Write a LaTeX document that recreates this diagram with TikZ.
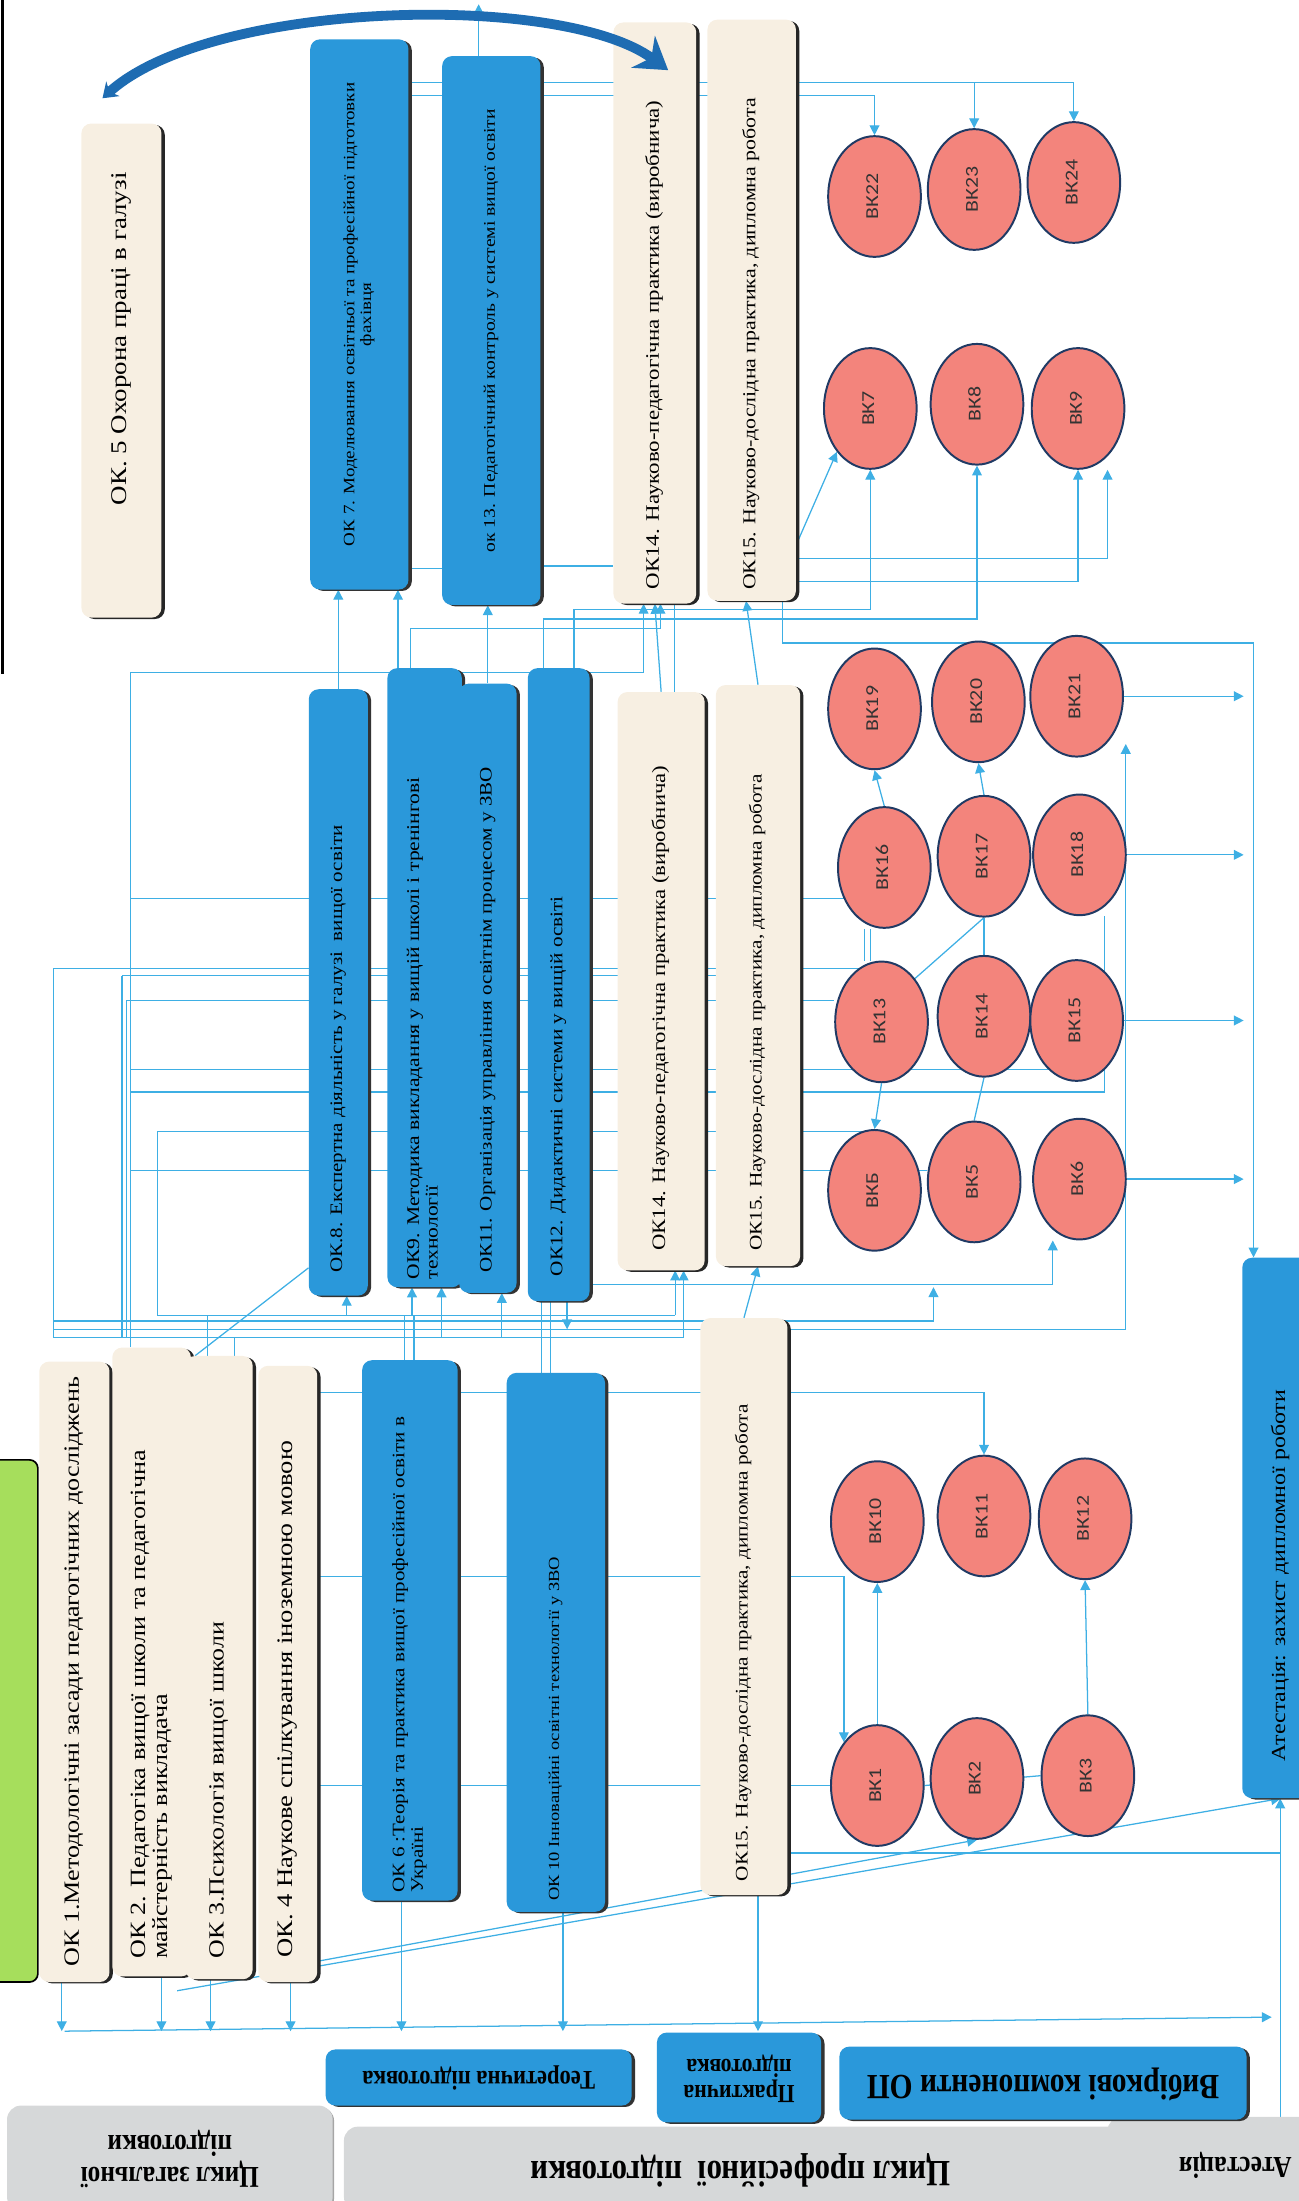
\documentclass[tikz,border=0pt]{standalone}
\usepackage{fontspec}
\usepackage{graphicx}
\setmainfont{Liberation Serif}
\newfontfamily\bkfont{Carlito}
\usetikzlibrary{positioning,arrows.meta,shapes.geometric,shadows}
\pgfdeclarelayer{background}
\pgfsetlayers{background,main}
\definecolor{okblue}{RGB}{42,152,218}
\definecolor{okbeige}{RGB}{247,239,226}
\definecolor{lineblue}{RGB}{62,175,228}
\definecolor{bkfill}{RGB}{243,132,124}
\definecolor{bkdraw}{RGB}{32,58,100}
\definecolor{cyclegrey}{RGB}{214,216,217}
\definecolor{greenbox}{RGB}{166,222,92}
\definecolor{bigblue}{RGB}{30,108,178}
\renewcommand{\arraystretch}{0.95}
\newcommand{\vt}[2][l]{\rotatebox{90}{\scalebox{1.2}[1]{\begin{tabular}{@{}#1@{}}#2\end{tabular}}}}
\newcommand{\vtb}[2]{\rotatebox{90}{\scalebox{1.2}[1]{\makebox[#1][l]{\begin{tabular}{@{}l@{}}#2\end{tabular}}}}}
\newcommand{\ut}[1]{\rotatebox{180}{\scalebox{1}[1.2]{\begin{tabular}{@{}c@{}}#1\end{tabular}}}}

\begin{document}
\begin{tikzpicture}[x=1pt,y=-1pt]
\tikzstyle{practice} = [fill=okbeige, rounded corners=7pt, inner sep=0pt, drop shadow={shadow xshift=2.4pt, shadow yshift=-1pt, fill=black!85, opacity=1}]
\tikzstyle{theory} = [fill=okblue, rounded corners=7pt, inner sep=0pt, drop shadow={shadow xshift=2.4pt, shadow yshift=-1pt, fill=black!80, opacity=1}]
\tikzstyle{elective} = [ellipse, draw=bkdraw, line width=1.4pt, fill=bkfill, minimum width=66pt, minimum height=86pt, inner sep=0pt, text=black!80, font=\bkfont\fontsize{13}{14}\selectfont]
\tikzstyle{cycle} = [fill=cyclegrey, rounded corners=10pt, inner sep=0pt, drop shadow={shadow xshift=1pt, shadow yshift=-1pt, fill=black!35, opacity=1}]
\tikzstyle{conn} = [draw=lineblue, line width=0.9pt]
\tikzstyle{arr} = [conn, -{Triangle[length=7pt,width=7pt]}]
\tikzstyle{bigarr} = [draw=bigblue, line width=7pt, {Stealth[length=10pt,width=14pt]}-{Stealth[length=22pt,width=28pt]}]

\useasboundingbox (0,0) rectangle (925,1568);

\node (green) [fill=greenbox, draw=black, line width=1.2pt, rounded corners=6pt, minimum width=37, minimum height=372] at (8.5,1226) {};

\node (OK5) [practice, minimum width=57, minimum height=352, font=\fontsize{16}{18}\selectfont] at (86.5,264) {\vtb{160pt}{ОК. 5 Охорона праці в галузі}};
\node (OK7) [theory, minimum width=70, minimum height=392, font=\fontsize{11.3}{12.5}\selectfont] at (256,224) {\vt[c]{ОК 7. Моделювання освітньої та професійної підготовки\\фахівця}};
\node (OK13) [theory, minimum width=70, minimum height=391, font=\fontsize{11.6}{13}\selectfont] at (350,235.5) {\vt{ок 13. Педагогічний контроль у системі вищої освіти}};
\node (OK14t) [practice, minimum width=59, minimum height=414, font=\fontsize{13.6}{15}\selectfont] at (466.5,223) {\vtb{328pt}{ОК14. Науково-педагогічна практика (виробнича)}};
\node (OK15t) [practice, minimum width=63, minimum height=414, font=\fontsize{13}{14}\selectfont] at (535.5,221) {\vtb{332pt}{ОК15. Науково-дослідна практика, дипломна робота}};

\node (OK8) [theory, minimum width=42, minimum height=432, font=\fontsize{12.5}{14}\selectfont] at (241,707) {\vtb{333pt}{ОК.8. Експертна діяльність у галузі\ \ вищої освіти}};
\node (OK9) [theory, minimum width=53, minimum height=441, font=\fontsize{12.8}{14}\selectfont] at (302.5,696.5) {\vtb{358pt}{ОК9. Методика викладання у вищій школі і тренінгові\\технології}};
\node (OK11) [theory, minimum width=41, minimum height=434, font=\fontsize{12.5}{14}\selectfont] at (347.5,704) {\vtb{338pt}{ОК11. Організація управління освітнім процесом у ЗВО}};
\node (OK12) [theory, minimum width=44, minimum height=451, font=\fontsize{12.6}{14}\selectfont] at (398,701.5) {\vtb{346pt}{ОК12. Дидактичні системи у вищій освіті}};
\node (OK14m) [practice, minimum width=62, minimum height=412, font=\fontsize{13.5}{15}\selectfont] at (471,699) {\vtb{320pt}{ОК14. Науково-педагогічна практика (виробнича)}};
\node (OK15m) [practice, minimum width=60, minimum height=414, font=\fontsize{12.6}{14}\selectfont] at (540,695) {\vtb{327pt}{ОК15. Науково-дослідна практика, дипломна робота}};

\node (OK1) [practice, minimum width=50, minimum height=442, font=\fontsize{15.5}{17}\selectfont] at (53,1191) {\vt{ОК 1.Методологічні засади педагогічних досліджень}};
\node (OK2) [practice, minimum width=56, minimum height=448, font=\fontsize{15.5}{16.5}\selectfont] at (108,1184) {\vtb{352pt}{ОК 2. Педагогіка вищої школи та педагогічна\\майстерність викладача}};
\node (OK3) [practice, minimum width=48, minimum height=444, font=\fontsize{15.4}{17}\selectfont] at (156,1188) {\vtb{345pt}{ОК 3.Психологія вищої школи}};
\node (OK4) [practice, minimum width=42, minimum height=439, font=\fontsize{15.8}{17}\selectfont] at (205,1192.5) {\vtb{337pt}{ОК. 4 Наукове спілкування іноземною мовою}};
\node (OK6) [theory, minimum width=68, minimum height=385, font=\fontsize{12.5}{14}\selectfont] at (292,1161.5) {\vtb{311pt}{ОК 6 :Теорія та практика вищої професійної освіти в\\Україні}};
\node (OK10) [theory, minimum width=70, minimum height=384, font=\fontsize{11}{12}\selectfont] at (396,1170) {\vtb{307pt}{ОК 10 Інноваційні освітні технології у ЗВО}};
\node (OK15L) [practice, minimum width=62, minimum height=411, font=\fontsize{12.6}{14}\selectfont] at (530,1144.5) {\vtb{326pt}{ОК15. Науково-дослідна практика, дипломна робота}};
\node (ATT) [theory, minimum width=55, minimum height=385, font=\fontsize{14.2}{15}\selectfont] at (912.5,1088.5) {\vtb{277pt}{Атестація: захист дипломної роботи}};

\foreach \n/\x/\y in {22/623/140, 23/694/135, 24/765/130, 7/620/291, 8/696/288, 9/768/291,
  19/623/505, 20/697/500, 21/767/496, 16/630/618, 17/701/610, 18/769/609,
  13/628/728, 14/701/724, 15/767/727, 5/694/842, 6/769/840,
  10/625/1084, 11/701/1080, 12/773/1082, 1/625/1272, 2/696/1267, 3/775/1265}
  \node (BK\n) [elective] at (\x,\y) {\vt{ВК\n}};
\node (BKB) [elective] at (623,848) {\vt{ВКБ}};

\node (Lgen) [cycle, minimum width=232, minimum height=75, font=\bfseries\fontsize{18}{20}\selectfont] at (121,1537.5) {\ut{Цикл загальної\\підготовки}};
\node (Lprof) [cycle, minimum width=565, minimum height=60, font=\bfseries\fontsize{22}{24}\selectfont] at (527.5,1545) {\ut{Цикл професійної\ \ підготовки}};
\node (Latt) [cycle, minimum width=182, minimum height=67, font=\bfseries\fontsize{18}{20}\selectfont] at (880,1541.5) {\ut{Атестація}};
\node (Ltheo) [theory, minimum width=218, minimum height=40, font=\bfseries\fontsize{16}{18}\selectfont] at (341,1480) {\ut{Теоретична підготовка}};
\node (Lprac) [theory, minimum width=117, minimum height=64, font=\bfseries\fontsize{15.5}{16.5}\selectfont] at (526.5,1480) {\ut{Практична\\підготовка}};
\node (Lopt) [theory, minimum width=290, minimum height=52, font=\bfseries\fontsize{21}{23}\selectfont] at (743,1484) {\ut{Вибіркові компоненти ОП}};

\coordinate (topOut) at (341,3);
\coordinate (bigL) at (73,70);
\coordinate (bigR) at (476,50);
\coordinate (L0top) at (38,690);
\coordinate (L1top) at (93,479);
\coordinate (L2top) at (87,695);
\coordinate (L4top) at (90,713);
\coordinate (L3top) at (112,806);
\coordinate (rbus) at (893,458);
\coordinate (rarr) at (886,0);
\coordinate (j1) at (665,917);
\coordinate (j2) at (802,530);
\coordinate (bbL) at (46,1447);
\coordinate (bbR) at (906,1437);
\coordinate (rbot) at (912,1568);
\coordinate (frameTop) at (2,0);
\coordinate (frameBot) at (2,480);
\foreach \y in {59,68,398,414,434,441,448,640,762,778,834,915,937,941,947,953,992,1123,1320}
  \coordinate (h\y) at (0,\y);

\begin{pgfonlayer}{background}
\draw[arr] (OK7.east |- h59) -| (BK24.north);
\draw[arr] (BK23.north |- h59) -- (BK23.north);
\draw[arr] (OK7.east |- h68) -| (BK22.north);
\draw[arr] (OK13.north -| topOut) -- (topOut);
\draw[arr] (OK8.north) -- (OK8.north |- OK7.south);
\draw[arr] ([xshift=-19pt]OK9.north) -- ([xshift=-19pt]OK9.north |- OK7.south);
\draw[arr] (OK11.north) -- (OK11.north |- OK13.south);
\draw[conn] ([yshift=15pt]OK7.south east) -- ([yshift=15pt]OK7.south east -| OK13.west);
\draw[conn] ([yshift=28pt]OK13.south east) -- ([yshift=28pt]OK13.south east -| OK14t.west);
\draw[arr] (L1top) -| ([xshift=-8pt]OK14t.south);
\draw[arr] ([xshift=-10pt]OK9.north) |- ([xshift=4pt]OK14t.south |- h448) -- ([xshift=4pt]OK14t.south);
\draw[arr] ([xshift=-11pt]OK12.north) |- (BK8.south |- h441) -- (BK8.south);
\draw[arr] ([xshift=11pt]OK12.north) |- (BK7.south |- h434) -- (BK7.south);
\draw[arr] (OK15t.east |- h398) -| ([xshift=21pt]BK9.south);
\draw[arr] (OK15t.east |- h414) -| (BK9.south);
\draw[arr] ([yshift=40pt]OK15t.south east) -- (BK7.south west);
\draw[arr] (OK14m.north) -- (OK14t.south);
\draw[conn] ([xshift=14pt]OK14t.south) -- ([xshift=14pt]OK14t.south |- OK14m.north);
\draw[arr] (OK15m.north) -- ([xshift=-4pt]OK15t.south);
\draw[arr] ([xshift=22pt]OK15t.south) |- (rbus) -- (rbus |- ATT.north);
\foreach \b in {BK21,BK18,BK15,BK6}
  \draw[arr] (\b.east) -- (\b.east -| rarr);

\draw[conn] (L0top) -- (L0top |- h953);
\draw[conn] (L1top) -- (L1top |- OK2.north);
\draw[conn] (L2top) -- (L2top |- h953);
\draw[conn] (L4top) -- (L4top |- h953);
\draw[conn] (L3top) -- (L3top |- h937);
\draw[conn] (L0top) -- ([xshift=-12pt]BK13.north |- L0top);
\draw[conn] (L2top) -- (OK15m.west |- L2top);
\draw[conn] (L4top) -- ([yshift=15pt]BK13.west);
\draw[conn] (L3top) -- ([xshift=-9pt]BK13.south |- L3top);
\draw[conn] (L1top |- h762) -- (BK15.center |- h762);
\draw[conn] (L1top |- h778) -| ([xshift=18pt]BK18.south);
\draw[conn] (L1top |- h834) -- (BK5.west |- h834);
\draw[conn] (L1top |- h640) -- ([shift={(5pt,-22pt)}]BK16.west);
\draw[arr] (BK13.south) -- (BKB.north);
\draw[arr] (BK16.north) -- (BK19.south);
\draw[arr] (BK17.north) -- (BK20.south);
\draw[conn] (BK14.north) -- (BK17.south);
\draw[conn] (BK13.north east) -- (BK17.south);
\draw[conn] ([xshift=-10pt]BK16.south) -- ([xshift=-10pt]BK16.south |- BK13.north);
\draw[conn] ([xshift=-14pt]BK16.south) -- ([xshift=-14pt]BK16.south |- BK13.north);
\draw[conn] (BK5.north) -- (BK14.south);
\draw[arr] (OK12.east |- h915) -| ([xshift=-19pt]BK6.south);
\draw[arr] (L0top |- h941) -| (j1);
\draw[arr] (L0top |- h947) -| (j2);
\draw[conn] (L3top |- h937) -- ([xshift=10pt]OK14m.south |- h937);
\draw[conn] (L0top |- h953) -- ([xshift=16pt]OK14m.south |- h953);
\draw[arr] ([xshift=6pt]OK8.south |- h937) -- ([xshift=6pt]OK8.south);
\draw[arr] ([xshift=-9pt]OK9.south |- h937) -- ([xshift=-9pt]OK9.south);
\draw[arr] ([xshift=12pt]OK9.south |- h953) -- ([xshift=12pt]OK9.south);
\draw[arr] ([xshift=10pt]OK11.south |- h953) -- ([xshift=10pt]OK11.south);
\draw[arr] ([xshift=10pt]OK14m.south |- h937) -- ([xshift=10pt]OK14m.south);
\draw[arr] ([xshift=16pt]OK14m.south |- h953) -- ([xshift=16pt]OK14m.south);
\draw[arr] (OK15L.north) -- (OK15m.south);
\draw[arr] ([xshift=6pt]OK12.south) -- ([xshift=6pt]OK12.south |- h947);
\draw[conn] ([xshift=-10pt]OK10.north) -- ([xshift=-10pt]OK10.north |- OK12.south);
\draw[conn] ([xshift=-4pt]OK10.north) -- ([xshift=-4pt]OK10.north |- OK12.south);
\draw[conn] ([xshift=-4pt]OK6.north) -- ([xshift=-4pt]OK6.north |- h937);
\draw[conn] ([xshift=3pt]OK6.north) -- ([xshift=3pt]OK6.north |- h937);
\draw[conn] ([xshift=-8pt]OK3.north) -- ([xshift=-8pt]OK3.north |- h937);
\draw[conn] ([xshift=11pt]OK3.north) -- ([xshift=11pt]OK3.north |- h953);
\draw[conn] ([xshift=-17pt]OK3.north) -- ([yshift=20pt]OK8.south west);

\draw[arr] (OK4.east |- h992) -| (BK11.north);
\draw[arr] (OK4.east |- h1123) -| (BK1.north west);
\draw[conn] (OK4.east |- BK1.west) -- (BK1.west);
\draw[conn] (BK1.east) -- (BK3.west);
\draw[arr] (BK1.north) -- (BK10.south);
\draw[arr] (BK3.north) -- (BK12.south);
\draw[conn] (OK15L.east |- h1320) -- (rbot |- h1320);
\draw[arr] ([yshift=15pt]OK4.south east) -- (BK2.south);
\draw[arr] ([shift={(-10pt,-10pt)}]OK2.south east) -- (ATT.south);
\draw[arr] (rbot) -- (rbot |- ATT.south);
\draw[arr] (bbL) -- (bbR);
\foreach \n/\dx in {OK1/-9,OK2/7,OK3/-6,OK4/2,OK6/-6,OK10/5,OK15L/10}
  \draw[arr] ([xshift=\dx pt]\n.south) -- ([xshift=\dx pt]\n.south |- bbL);
\end{pgfonlayer}

\draw[black, line width=2pt] (frameTop) -- (frameBot);
\draw[bigarr] (bigL) .. controls (150,0) and (400,-6) .. (bigR);
\end{tikzpicture}
\end{document}
